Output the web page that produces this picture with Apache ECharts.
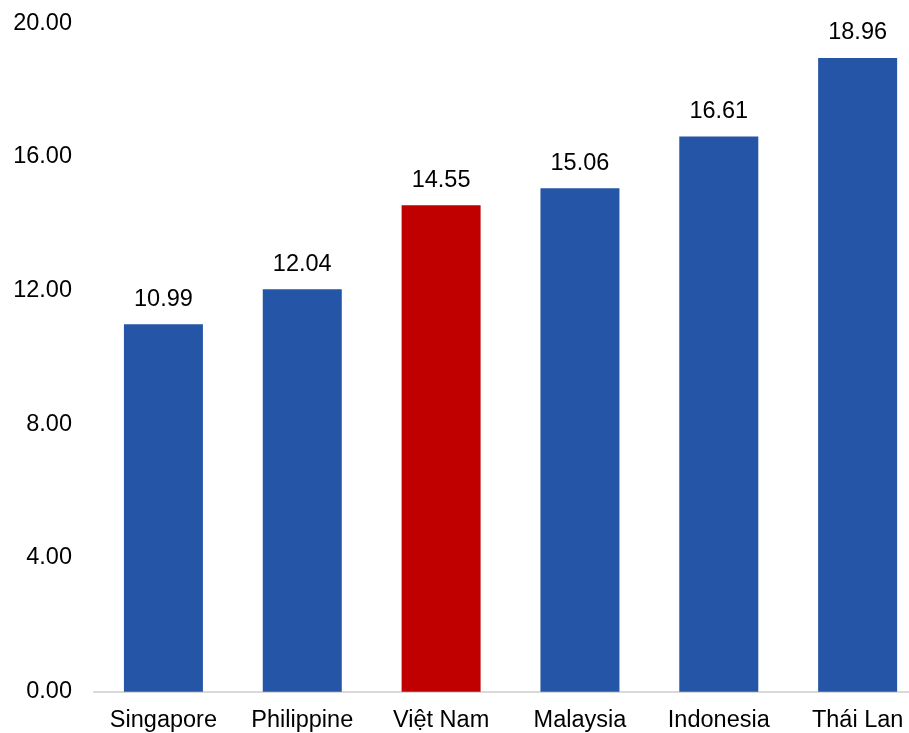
<!DOCTYPE html>
<html>
<head>
<meta charset="utf-8">
<script src="https://cdn.jsdelivr.net/npm/echarts@6/dist/echarts.min.js"></script>
<style>html,body{margin:0;padding:0;background:#fff;}#c{width:909px;height:733px;}</style>
</head>
<body>
<div id="c"></div>
<script>
const categories = ['Singapore', 'Philippine', 'Việt Nam', 'Malaysia', 'Indonesia', 'Thái Lan'];
const values = [10.99, 12.04, 14.55, 15.06, 16.61, 18.96];
const highlightIndex = 2;
const yTicks = { min: 0, max: 20, interval: 4 };

const chart = echarts.init(document.getElementById('c'));
const font = 'Liberation Sans, Arial, sans-serif';
chart.setOption({
  animation: false,
  grid: { left: 94, top: 23.2, right: 0, bottom: 41.3, containLabel: false },
  xAxis: {
    type: 'value',
    min: -0.5, max: 5.37,
    splitLine: { show: false },
    axisLine: { show: true, onZero: false, lineStyle: { color: '#d9d9d9', width: 2 } },
    axisTick: { show: false },
    axisLabel: {
      color: '#000', fontFamily: font, fontSize: 23.5, margin: 17,
      customValues: categories.map((c, i) => i),
      formatter: v => categories[Math.round(v)] || ''
    }
  },
  yAxis: {
    type: 'value',
    min: yTicks.min, max: yTicks.max, interval: yTicks.interval,
    splitLine: { show: false },
    axisLine: { show: false },
    axisTick: { show: false },
    axisLabel: { color: '#000', fontFamily: font, fontSize: 23.5, margin: 22, formatter: v => v.toFixed(2) }
  },
  series: [{
    type: 'bar',
    barWidth: 79,
    data: values.map((v, i) => ({ value: [i, v], itemStyle: { color: i === highlightIndex ? '#C00000' : '#2555A6' } })),
    label: {
      show: true, position: 'top', distance: 13,
      color: '#000', fontFamily: font, fontSize: 23.5,
      formatter: p => p.value[1].toFixed(2)
    }
  }]
});
</script>
</body>
</html>
